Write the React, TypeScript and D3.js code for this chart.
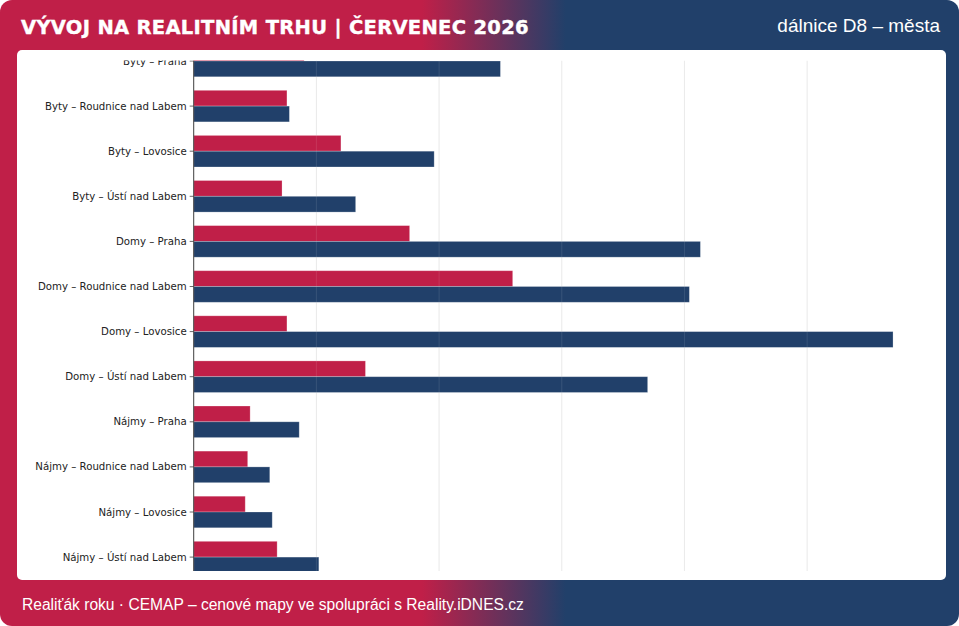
import * as d3 from "d3";
import { useEffect } from "react";

const W = 959;
const H = 626;

const CATEGORIES = [
  "Byty – Praha",
  "Byty – Roudnice nad Labem",
  "Byty – Lovosice",
  "Byty – Ústí nad Labem",
  "Domy – Praha",
  "Domy – Roudnice nad Labem",
  "Domy – Lovosice",
  "Domy – Ústí nad Labem",
  "Nájmy – Praha",
  "Nájmy – Roudnice nad Labem",
  "Nájmy – Lovosice",
  "Nájmy – Ústí nad Labem",
];

// first (upper, crimson) series and second (lower, navy) series
const SERIES_A = [90, 76, 120, 72, 176, 260, 76, 140, 46, 44, 42, 68];
const SERIES_B = [250, 78, 196, 132, 413, 404, 570, 370, 86, 62, 64, 102];

const TITLE = "VÝVOJ NA REALITNÍM TRHU | ČERVENEC 2026";
const SUBTITLE = "dálnice D8 – města";
const FOOTER = "Realiťák roku · CEMAP – cenové mapy ve spolupráci s Reality.iDNES.cz";

const CRIMSON = "#c01f48";
const NAVY = "#21406a";

const card = { x: 17, y: 50, w: 929, h: 530 };
const plot = { left: 193.7, right: 928, top: 60.5, bottom: 571 };

export default function App() {
  useEffect(() => {
    document.body.style.margin = "0";
  }, []);

  const xMax = (d3.max(SERIES_B) ?? 0) * 1.05;
  const x = d3.scaleLinear().domain([0, xMax]).range([plot.left, plot.right]);

  const step = 45.1;
  const firstCenter = 61;
  const y = d3
    .scaleBand<string>()
    .domain(CATEGORIES)
    .range([firstCenter - step / 2, firstCenter - step / 2 + step * CATEGORIES.length])
    .padding(0);

  const barH = y.step() * 0.35;
  const center = (c: string) => (y(c) ?? 0) + y.bandwidth() / 2;
  const ticks = x.ticks(6);

  const bar = (c: string, v: number, top: boolean, fill: string) => (
    <rect
      key={`${c}-${top ? "a" : "b"}`}
      x={x(0)}
      y={top ? center(c) - barH : center(c)}
      width={x(v) - x(0)}
      height={barH}
      fill={fill}
      stroke="#fff"
      strokeOpacity={0.3}
      strokeWidth={0.8}
    />
  );

  return (
    <svg width={W} height={H} style={{ display: "block" }} fontFamily="'Liberation Sans', Arial, sans-serif">
      <defs>
        <linearGradient id="frame-grad" x1="0" y1="0" x2="1" y2="0">
          <stop offset="0%" stopColor={CRIMSON} />
          <stop offset="44%" stopColor={CRIMSON} />
          <stop offset="59%" stopColor={NAVY} />
          <stop offset="100%" stopColor={NAVY} />
        </linearGradient>
        <clipPath id="plot-clip">
          <rect x={card.x} y={plot.top} width={card.w} height={plot.bottom - plot.top} />
        </clipPath>
      </defs>

      <rect x={0} y={0} width={W} height={H} rx={12} fill="url(#frame-grad)" />

      <text
        x={21}
        y={34}
        fill="#fff"
        stroke="#fff"
        strokeWidth={0.4}
        fontSize={19.5}
        fontWeight="bold"
        letterSpacing={0.3}
        fontFamily="'DejaVu Sans', sans-serif"
      >
        {TITLE}
      </text>
      <text x={940} y={32} fill="#fff" fontSize={19} textAnchor="end">
        {SUBTITLE}
      </text>

      <rect x={card.x} y={card.y} width={card.w} height={card.h} rx={5} fill="#fff" />

      <g clipPath="url(#plot-clip)">
        {ticks.map((t) => (
          <line key={t} x1={x(t)} x2={x(t)} y1={plot.top} y2={plot.bottom} stroke="#e8e8e8" strokeWidth={1} />
        ))}

        {CATEGORIES.map((c, i) => (
          <g key={c}>
            {bar(c, SERIES_A[i], true, CRIMSON)}
            {bar(c, SERIES_B[i], false, NAVY)}
          </g>
        ))}

        {ticks.map((t) => (
          <line
            key={`over-${t}`}
            x1={x(t)}
            x2={x(t)}
            y1={plot.top}
            y2={plot.bottom}
            stroke="#fff"
            strokeOpacity={0.1}
            strokeWidth={1}
          />
        ))}

        <line x1={x(0)} x2={x(0)} y1={plot.top} y2={plot.bottom + 20} stroke="#444" strokeWidth={1} />

        {CATEGORIES.map((c) => (
          <g key={c} transform={`translate(${x(0)},${center(c)})`}>
            <line x1={-4} x2={0} stroke="#444" strokeWidth={0.8} />
            <text
              x={-7}
              dy="0.35em"
              textAnchor="end"
              fontSize={10.2}
              fill="#222"
              fontFamily="'DejaVu Sans', sans-serif"
            >
              {c}
            </text>
          </g>
        ))}
      </g>

      <text x={22} y={610} fill="#fff" fontSize={15.6}>
        {FOOTER}
      </text>
    </svg>
  );
}
